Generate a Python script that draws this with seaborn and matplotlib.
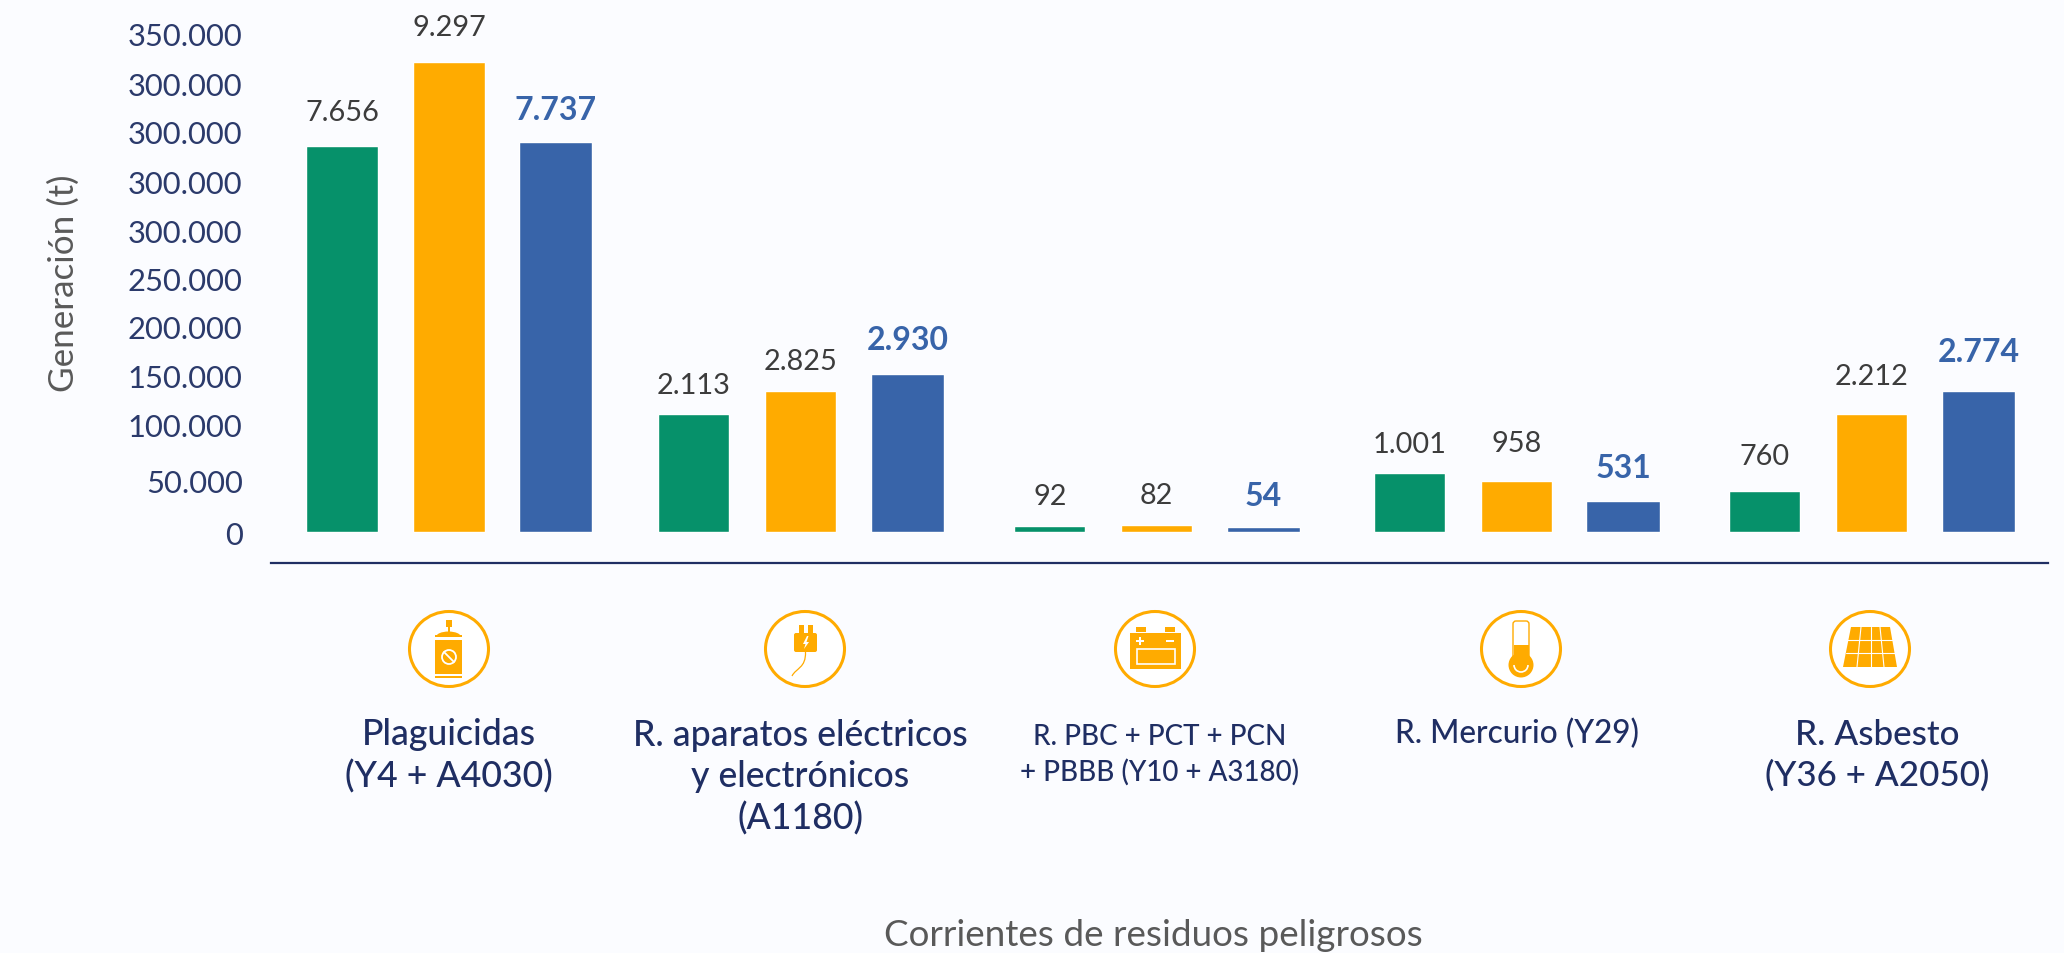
import numpy as np
import pandas as pd
import matplotlib
matplotlib.use("Agg")
import matplotlib.pyplot as plt
from matplotlib.patches import Circle, Ellipse, Rectangle, Polygon, FancyBboxPatch, Arc, PathPatch
from matplotlib.path import Path
from matplotlib.transforms import ScaledTranslation, blended_transform_factory
import seaborn as sns

categories = ["Plaguicidas\n(Y4 + A4030)",
              "R. aparatos eléctricos\ny electrónicos\n(A1180)",
              "R. PBC + PCT + PCN\n+ PBBB (Y10 + A3180)",
              "R. Mercurio (Y29)",
              "R. Asbesto\n(Y36 + A2050)"]
series = ["Serie 1", "Serie 2", "Serie 3"]
# bar heights read on the drawn axis
heights_green = [390600, 120000, 6500, 60000, 41300]
heights_orange = [476000, 142600, 7500, 52000, 120000]
heights_blue = [394600, 160000, 5300, 32000, 142600]
labels_green = ["7.656", "2.113", "92", "1.001", "760"]
labels_orange = ["9.297", "2.825", "82", "958", "2.212"]
labels_blue = ["7.737", "2.930", "54", "531", "2.774"]
tick_values = [0, 52000, 109300, 158600, 208000, 257300, 305300, 354600, 405200, 454500, 505200]
tick_labels = ["0", "50.000", "100.000", "150.000", "200.000", "250.000",
               "300.000", "300.000", "300.000", "300.000", "350.000"]

GREEN, ORANGE, BLUE = "#06916A", "#FFAB00", "#3864A9"
NAVY, BG, DARK, GREY = "#1F2E63", "#FBFCFF", "#3C3C3C", "#595959"
FONT = "Lato"
W, H = 2064, 954
k = W / 1568

sns.set_theme(style="white")
plt.rcParams["font.family"] = [FONT, "DejaVu Sans"]

df = pd.DataFrame({
    "Corriente": categories * 3,
    "Serie": np.repeat(series, len(categories)),
    "Generación": heights_green + heights_orange + heights_blue,
})

fig = plt.figure(figsize=(W / 100, H / 100), dpi=100, facecolor=BG)
left, right, bottom = 206 * k, 1556 * k, 428.7 * k
ax = fig.add_axes([left / W, 1 - bottom / H, (right - left) / W, bottom / H])
ax.set_facecolor("none")
sns.barplot(data=df, x="Corriente", y="Generación", hue="Serie", order=categories,
            hue_order=series, palette=[GREEN, ORANGE, BLUE], saturation=1,
            width=0.9, gap=0.333, legend=False, ax=ax)
ax.set_xlim(-0.499, 4.49)
ax.set_ylim(-31600, 539860)
for s in ["top", "left", "right"]:
    ax.spines[s].set_visible(False)
ax.spines["bottom"].set_color(NAVY)
ax.spines["bottom"].set_linewidth(1.6)

ax.set_yticks(tick_values, tick_labels)
ax.tick_params(axis="y", length=0, pad=20.5, labelsize=22.2, labelcolor="#2B3A6B")

ax.set_xticks(range(len(categories)), categories)
ax.tick_params(axis="x", length=0, labelsize=21, labelcolor=NAVY)
# per-category placement of the labels under the pictograms
cat_dx = [0, -3.5, -1, 0, 3]
cat_y = [574, 590.5, 573.5, 557.5, 574]
cat_fs = [25.7, 25.7, 20, 22.7, 25.2]
cat_ls = [1.3, 1.3, 1.43, 1.3, 1.3]
for t, dx, y0, fs, ls in zip(ax.get_xticklabels(), cat_dx, cat_y, cat_fs, cat_ls):
    t.set_fontsize(fs)
    t.set_linespacing(ls)
    t.set_fontweight("medium")
    t.set_va("center")
    t.set_transform(blended_transform_factory(
        ax.transData + ScaledTranslation(dx * k / 100, 0, fig.dpi_scale_trans), fig.transFigure))
    t.set_y(1 - y0 * k / H)

ax.set_ylabel("")
ax.set_xlabel("")
fig.text(48.5 * k / W, 1 - 215 * k / H, "Generación (t)", rotation=90, ha="center", va="center",
         fontsize=25.2, color=GREY)
fig.text(876 * k / W, 1 - 710.5 * k / H, "Corrientes de residuos peligrosos", ha="center", va="center",
         fontsize=26.6, color=GREY)

# the groups are not quite evenly spaced in the reference
group_shift = [0, -3.5, -3.5, -1, -1.5]
unit = (right - left) / k / (4.49 + 0.499)
for bar_set in ax.containers:
    for bar, sh in zip(bar_set, group_shift):
        bar.set_x(bar.get_x() + sh / unit)
# blue bars are a touch wider in the reference
for bar in ax.containers[2]:
    cx = bar.get_x() + bar.get_width() / 2
    bar.set_width(bar.get_width() * 1.03)
    bar.set_x(cx - bar.get_width() / 2)

label_nudge = [[1, -3, -2, -3, 2], [2, -2, -2, 4, 4], [-1, 0, -2, -1, 4]]
for container, labs, col, weight, fs, nudges in zip(ax.containers,
                                            [labels_green, labels_orange, labels_blue],
                                            [DARK, DARK, BLUE],
                                            ["normal", "normal", "bold"],
                                            [20.8, 20.8, 23], label_nudge):
    for bar, lab, n in zip(container, labs, nudges):
        ax.annotate(lab, (bar.get_x() + bar.get_width() / 2, bar.get_height()),
                    xytext=(0, 14.2 + n * k * 0.72), textcoords="offset points", ha="center", va="bottom",
                    fontsize=fs, color=col, fontweight=weight, annotation_clip=False)

# pictograms, in figure pixels
ic = fig.add_axes([0, 0, 1, 1])
ic.set_xlim(0, W)
ic.set_ylim(H, 0)
ic.axis("off")
ic.patch.set_alpha(0)
for cx in [449, 805, 1155, 1521, 1870]:
    ic.add_patch(Ellipse((cx, 650), 79, 75, fc="white", ec=ORANGE, lw=2.2))

def rect(x0, y0, x1, y1, fc=ORANGE, ec="none", lw=0):
    ic.add_patch(Rectangle((x0, y0), x1 - x0, y1 - y0, fc=fc, ec=ec, lw=lw))

# spray can
rect(435, 636, 462, 679)
ic.add_patch(Ellipse((448.5, 638), 25, 11, fc=ORANGE, ec="none"))
rect(447.5, 627, 450, 633)
rect(446, 621, 452, 628)
rect(435, 638, 462, 640.5, fc="white")
rect(435, 675, 462, 676.5, fc="white")
ic.add_patch(Circle((449, 658), 7, fc="none", ec="white", lw=1.3))
ic.plot([444, 454], [653, 663], color="white", lw=1.3)
# plug
ic.add_patch(FancyBboxPatch((796, 636), 19, 15, boxstyle="round,pad=2", fc=ORANGE, ec="none"))
rect(799, 626, 804, 635)
rect(808, 626, 813, 635)
ic.add_patch(Polygon([[807, 637], [803, 645], [805.5, 645], [804, 650], [809, 643], [806.5, 643], [808.5, 637]], fc="white", ec="none"))
ic.add_patch(PathPatch(Path([(805.5, 653), (806, 669), (796, 669), (792, 677)],
                            [Path.MOVETO, Path.CURVE4, Path.CURVE4, Path.CURVE4]),
                       fc="none", ec=ORANGE, lw=0.9))
# battery
rect(1130, 634, 1181, 670)
rect(1136, 628, 1146, 633)
rect(1165, 628, 1175, 633)
rect(1137, 650, 1175, 665, fc="none", ec="white", lw=1.2)
rect(1136, 641, 1144, 643, fc="white")
rect(1139, 638, 1141, 646, fc="white")
rect(1166, 641, 1174, 643, fc="white")
# thermometer
ic.add_patch(FancyBboxPatch((1516, 625), 10, 32, boxstyle="round,pad=3", fc="white", ec=ORANGE, lw=1))
rect(1513.5, 646, 1528.5, 659)
ic.add_patch(Circle((1521, 666), 12.5, fc=ORANGE, ec="none"))
ic.add_patch(Arc((1521, 666), 14, 14, theta1=0, theta2=180, ec="white", lw=1.2))
# roof tiles
ic.add_patch(Polygon([[1851, 628], [1890, 628], [1897, 668], [1843, 668]], fc=ORANGE, ec="none"))
for xt, xb in [(1861, 1857), (1870.5, 1870.5), (1880, 1884)]:
    ic.plot([xt, xb], [628, 668], color="white", lw=0.8)
for y in [641, 654]:
    ic.plot([1846, 1895], [y, y], color="white", lw=0.8)

fig.savefig("out.png", dpi=100, facecolor=BG)
